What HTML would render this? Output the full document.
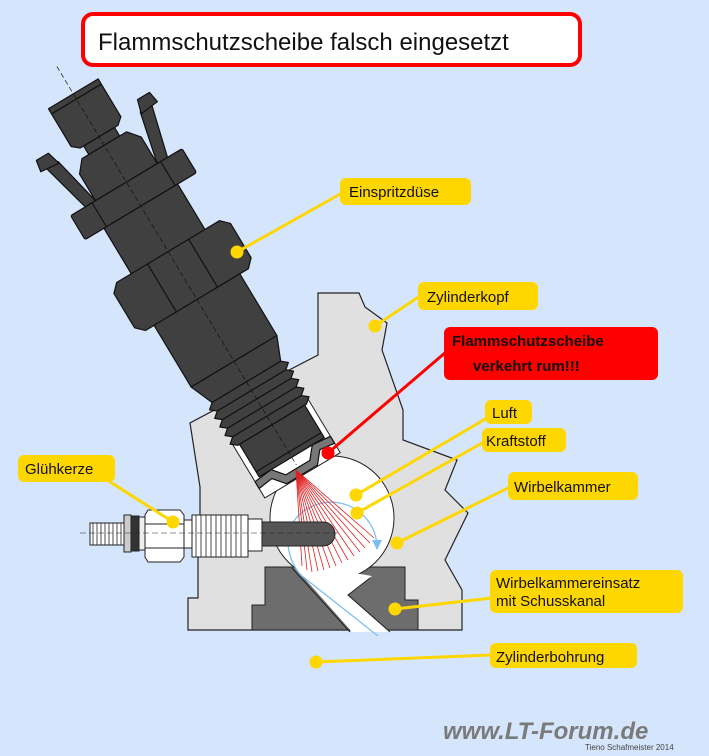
<!DOCTYPE html>
<html><head><meta charset="utf-8"><style>
html,body{margin:0;padding:0;background:#d5e5fc;}
svg{display:block;font-family:"Liberation Sans",Arial,sans-serif;}
</style></head><body>
<svg width="709" height="756" viewBox="0 0 709 756" xmlns="http://www.w3.org/2000/svg">
<rect width="709" height="756" fill="#d5e5fc"/>
<rect x="83" y="14" width="497" height="51" rx="10" fill="#fff" stroke="#f00" stroke-width="4"/>
<text x="98" y="50" font-size="24" fill="#111">Flammschutzscheibe falsch eingesetzt</text>

<polygon points="318,293 359,293 365,307 387,323 382,350 403,410 403,440 457,460 445,490 468,513 445,560 462,590 462,630 188,630 188,598 198,598 198,555 200,555 200,487 190,423 293,368 318,355" fill="#e0e0e0" stroke="#222" stroke-width="1.2"/>
<polygon points="252,630 252,605 265,605 265,567 405,567 405,600 418,600 418,630" fill="#6d6d6d" stroke="#222" stroke-width="1"/>
<circle cx="332" cy="518" r="62" fill="#fff" stroke="#222" stroke-width="1"/>
<polygon points="290,562 352,632 390,632 348,595 372,576" fill="#fff"/>
<line x1="350" y1="632" x2="292" y2="568" stroke="#222" stroke-width="1"/>
<polyline points="390,632 348,595 370,578" fill="none" stroke="#222" stroke-width="1"/>
<path d="M378,636 L302,576 Q286,560 288,532 A46,46 0 0 1 377,546" fill="none" stroke="#7fbfef" stroke-width="1.3"/>
<polygon points="372,540 382,540 377,550" fill="#7fbfef"/>

<g transform="translate(62,75) rotate(-31)" stroke="#111" stroke-width="1.2" stroke-linejoin="round">
  <rect x="-44" y="405" width="88" height="62" fill="#fff" stroke="#222" stroke-width="1"/>
  <polygon points="48,72 62,70 48,125 36,125" fill="#404040"/>
  <polygon points="52,60 66,60 68,72 48,74" fill="#404040"/>
  <polygon points="-48,72 -62,70 -48,125 -36,125" fill="#404040"/>
  <polygon points="-52,60 -66,60 -68,72 -48,74" fill="#404040"/>
  <polygon points="-29,22 29,22 29,66 22,72 -22,72 -29,66" fill="#404040"/>
  <line x1="-29" y1="28" x2="29" y2="28"/>
  <rect x="-18" y="72" width="36" height="10" fill="#404040"/>
  <polygon points="-26,82 26,82 36,94 36,125 -36,125 -36,94" fill="#404040"/>
  <rect x="-65" y="125" width="130" height="28" rx="2" fill="#404040"/>
  <line x1="-40" y1="125" x2="-40" y2="153"/><line x1="40" y1="125" x2="40" y2="153"/>
  <rect x="-43" y="153" width="86" height="55" fill="#404040"/>
  <polygon points="-68,214 -60,206 60,206 68,214 68,254 60,262 -60,262 -68,254" fill="#404040"/>
  <line x1="-24" y1="206" x2="-24" y2="262"/><line x1="24" y1="206" x2="24" y2="262"/>
  <rect x="-50" y="262" width="100" height="72" fill="#404040"/>
  <polygon points="-50,334 50,334 40,358 -40,358" fill="#404040"/>
  <polygon points="-40,358 40,358 46,363 40,368 46,373 40,378 46,383 40,388 46,393 40,398 46,403 40,408 -40,408 -46,403 -40,398 -46,393 -40,388 -46,383 -40,378 -46,373 -40,368 -46,363" fill="#404040"/>
  <line x1="-40" y1="368" x2="40" y2="368"/><line x1="-40" y1="378" x2="40" y2="378"/>
  <line x1="-40" y1="388" x2="40" y2="388"/><line x1="-40" y1="398" x2="40" y2="398"/>
  <rect x="-38" y="408" width="76" height="38" fill="#404040"/>
  <line x1="-38" y1="440" x2="38" y2="440"/>
  <polygon points="-44,448 -24,446 -14,458 14,458 24,446 44,448 44,456 28,454 18,466 -18,466 -28,454 -44,456" fill="#777"/>
  <line x1="0" y1="-10" x2="0" y2="455" stroke-dasharray="5,3" stroke-width="0.7"/>
</g>

<g stroke="#e02020" stroke-width="0.8">
  <line x1="296" y1="470" x2="312" y2="572"/><line x1="296" y1="470" x2="318" y2="571"/>
  <line x1="296" y1="470" x2="324" y2="570"/><line x1="296" y1="470" x2="330" y2="568"/>
  <line x1="296" y1="470" x2="336" y2="566"/><line x1="296" y1="470" x2="342" y2="563"/>
  <line x1="296" y1="470" x2="348" y2="560"/><line x1="296" y1="470" x2="354" y2="556"/>
  <line x1="296" y1="470" x2="360" y2="552"/><line x1="296" y1="470" x2="365" y2="548"/>
  <line x1="296" y1="470" x2="370" y2="543"/><line x1="296" y1="470" x2="374" y2="538"/>
  <line x1="296" y1="470" x2="307" y2="570"/><line x1="296" y1="470" x2="302" y2="566"/>
</g>

<g stroke="#222" stroke-width="1">
  <rect x="90" y="523" width="34" height="22" fill="#fff"/>
  <path d="M93,523 L93,545 M97,523 L97,545 M101,523 L101,545 M105,523 L105,545 M109,523 L109,545 M113,523 L113,545 M117,523 L117,545 M121,523 L121,545" stroke-width="0.8"/>
  <rect x="124" y="515" width="7" height="37" fill="#ccc"/>
  <rect x="131" y="516" width="8" height="35" fill="#333"/>
  <rect x="139" y="517" width="6" height="33" fill="#eee"/>
  <polygon points="148,510 180,510 184,515 184,557 180,562 148,562 145,557 145,515" fill="#fff"/>
  <line x1="145" y1="524" x2="184" y2="524"/><line x1="145" y1="548" x2="184" y2="548"/>
  <rect x="184" y="520" width="8" height="28" fill="#fff"/>
  <rect x="192" y="515" width="56" height="42" fill="#fff"/>
  <path d="M196,515 L196,557 M201,515 L201,557 M206,515 L206,557 M211,515 L211,557 M216,515 L216,557 M221,515 L221,557 M226,515 L226,557 M231,515 L231,557 M236,515 L236,557 M241,515 L241,557" stroke-width="0.8"/>
  <rect x="248" y="519" width="14" height="32" fill="#fff"/>
  <path d="M262,522 L323,522 A12,12 0 0 1 323,546 L262,546 Z" fill="#555"/>
  <line x1="80" y1="533" x2="340" y2="533" stroke-dasharray="6,3" stroke-width="0.5"/>
</g>

<g stroke="#ffd700" stroke-width="3" fill="#ffd700">
  <line x1="237" y1="252" x2="342" y2="193"/><circle cx="237" cy="252" r="5"/>
  <line x1="375" y1="326" x2="420" y2="296"/><circle cx="375" cy="326" r="5"/>
  <line x1="356" y1="495" x2="487" y2="418"/><circle cx="356" cy="495" r="5"/>
  <line x1="357" y1="513" x2="484" y2="442"/><circle cx="357" cy="513" r="5"/>
  <line x1="397" y1="543" x2="510" y2="487"/><circle cx="397" cy="543" r="5"/>
  <line x1="395" y1="609" x2="492" y2="598"/><circle cx="395" cy="609" r="5"/>
  <line x1="316" y1="662" x2="492" y2="655"/><circle cx="316" cy="662" r="5"/>
  <polyline points="104,478 173,522" fill="none"/><circle cx="173" cy="522" r="5"/>
</g>
<g stroke="#f00" stroke-width="3" fill="#f00">
  <line x1="328" y1="453" x2="446" y2="352"/><circle cx="328" cy="453" r="5"/>
</g>

<g fill="#ffd700">
  <rect x="340" y="178" width="131" height="27" rx="6"/>
  <rect x="418" y="282" width="120" height="28" rx="6"/>
  <rect x="485" y="400" width="47" height="24" rx="6"/>
  <rect x="482" y="428" width="84" height="24" rx="6"/>
  <rect x="508" y="472" width="130" height="28" rx="6"/>
  <rect x="490" y="570" width="193" height="43" rx="6"/>
  <rect x="490" y="643" width="147" height="25" rx="6"/>
  <rect x="18" y="455" width="97" height="27" rx="6"/>
</g>
<rect x="444" y="327" width="214" height="53" rx="6" fill="#f00"/>
<g font-size="15" fill="#111">
  <text x="349" y="197">Einspritzdüse</text>
  <text x="427" y="302">Zylinderkopf</text>
  <text x="492" y="418">Luft</text>
  <text x="486" y="446">Kraftstoff</text>
  <text x="514" y="492">Wirbelkammer</text>
  <text x="496" y="588">Wirbelkammereinsatz</text>
  <text x="496" y="606">mit Schusskanal</text>
  <text x="496" y="662">Zylinderbohrung</text>
  <text x="25" y="474">Glühkerze</text>
</g>
<g font-size="15" font-weight="bold" fill="#111">
  <text x="452" y="346">Flammschutzscheibe</text>
  <text x="473" y="371">verkehrt rum!!!</text>
</g>
<text x="443" y="739" font-size="24" font-weight="bold" font-style="italic" fill="#7a7a7a">www.LT-Forum.de</text>
<text x="585" y="750" font-size="8" fill="#444">Tieno Schafmeister 2014</text>
</svg>
</body></html>
